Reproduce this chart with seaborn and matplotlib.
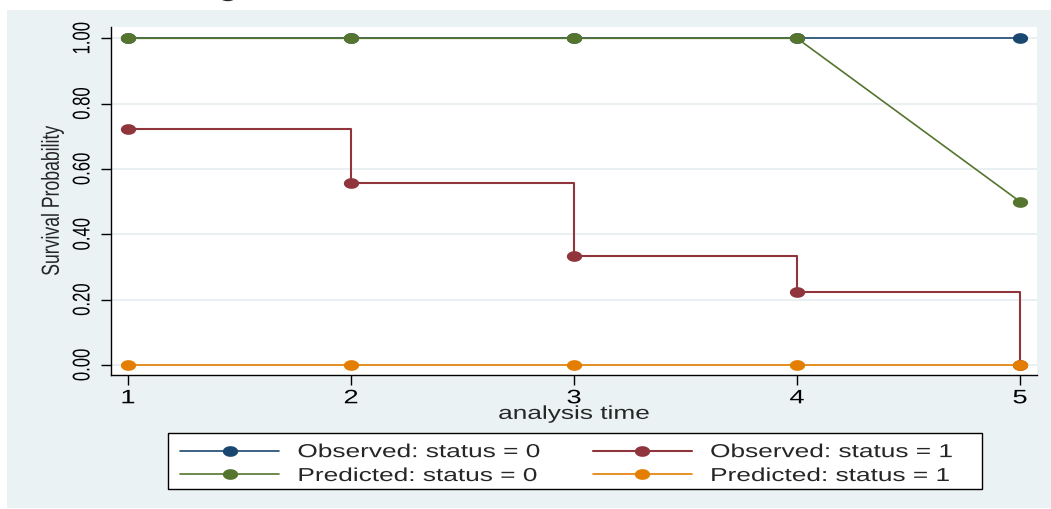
import numpy as np
import matplotlib
matplotlib.use("Agg")
import matplotlib.pyplot as plt
import seaborn as sns
from matplotlib.patches import Rectangle
from matplotlib.patheffects import AbstractPathEffect
from matplotlib.transforms import Affine2D

# values
times = [1, 2, 3, 4, 5]
obs_status0 = [1.0, 1.0, 1.0, 1.0, 1.0]
obs_status1 = [0.722, 0.556, 0.333, 0.222, 0.0]
pred_status0 = [1.0, 1.0, 1.0, 1.0, 0.5]
pred_status1 = [0.0, 0.0, 0.0, 0.0, 0.0]

series_labels = ["Observed: status = 0", "Observed: status = 1",
                 "Predicted: status = 0", "Predicted: status = 1"]
y_ticks = [0.0, 0.2, 0.4, 0.6, 0.8, 1.0]
x_ticks = [1, 2, 3, 4, 5]

# Stata s2color
colors = ["#1A476F", "#90353B", "#55752F", "#E37E00"]
bg = "#EAF2F3"


class Stretch(AbstractPathEffect):
    # the source image was resized wider, so the glyphs look stretched sideways
    def __init__(self, sx=1.0, sy=1.0, anchor="center"):
        super().__init__()
        self.sx, self.sy, self.anchor = sx, sy, anchor

    def draw_path(self, renderer, gc, tpath, affine, rgbFace=None):
        ext = tpath.get_extents()
        x0 = 0.0 if self.anchor == "left" else (ext.x0 + ext.x1) / 2
        y0 = (ext.y0 + ext.y1) / 2
        pre = Affine2D().translate(-x0, -y0).scale(self.sx, self.sy).translate(x0, y0)
        renderer.draw_path(gc, tpath, pre + affine, rgbFace)


sns.set_theme(style="white")
plt.rcParams["font.family"] = ["Liberation Sans", "DejaVu Sans"]

W, H = 1051, 509
fig = plt.figure(figsize=(W / 100, H / 100), dpi=100, facecolor="white")
fig.add_artist(Rectangle((7 / W, 1 / H), 1044 / W, 498 / H, transform=fig.transFigure,
                         facecolor=bg, edgecolor="none", zorder=-1))
ax = fig.add_axes([110.7 / W, 1 - 375 / H, 926.3 / W, 348 / H])
ax.set_facecolor("white")

# squashed circle marker, like the stretched dots in the picture
t = np.linspace(0, 2 * np.pi, 41)
ellipse = list(zip(np.cos(t), 0.7 * np.sin(t)))

series = [obs_status0, obs_status1, pred_status0, pred_status1]
styles = ["default", "steps-post", "default", "default"]
widths = [1.2, 1.5, 1.2, 1.2]
handles = []
for ys, lab, col, ds, lw in zip(series, series_labels, colors, styles, widths):
    sns.lineplot(x=times, y=ys, ax=ax, color=col, lw=lw, drawstyle=ds,
                 marker=ellipse, markersize=11, markeredgewidth=0,
                 label=lab, legend=False)
    handles.append(ax.lines[-1])

ax.set_xlim(0.922, 5.076)
ax.set_ylim(-0.0306, 1.0346)
ax.set_xticks(x_ticks, labels=[str(v) for v in x_ticks])
ax.set_yticks(y_ticks, labels=[f"{v:.2f}" for v in y_ticks])

ax.yaxis.grid(True, color="#E8EFF1", lw=1.3)
ax.xaxis.grid(False)
for s in ["top", "right"]:
    ax.spines[s].set_visible(False)
for s in ["left", "bottom"]:
    ax.spines[s].set_color("black")
    ax.spines[s].set_linewidth(1.0)

ax.tick_params(axis="both", direction="out", length=7, width=1, color="black",
               labelcolor="black", left=True, bottom=True)
ax.tick_params(axis="x", labelsize=14, pad=4)
ax.tick_params(axis="y", labelsize=12, pad=8, labelrotation=90)
for lbl in ax.get_yticklabels():
    lbl.set_va("center")
    lbl.set_path_effects([Stretch(sy=1.45)])
for lbl in ax.get_xticklabels():
    lbl.set_path_effects([Stretch(sx=1.4)])

ax.set_xlabel("analysis time", fontsize=13.5, labelpad=-1)
ax.set_ylabel("Survival Probability", fontsize=12.7, labelpad=10)
ax.xaxis.label.set_path_effects([Stretch(sx=1.4)])
ax.yaxis.label.set_path_effects([Stretch(sy=1.4)])

# legend box drawn by hand so it can fit the widened text
fig.add_artist(Rectangle((168 / W, 1 - 489 / H), 814 / W, 56 / H, transform=fig.transFigure,
                         facecolor="white", edgecolor="black", lw=1.0, zorder=1))
leg = fig.legend(handles=[handles[0], handles[2], handles[1], handles[3]],
                 labels=[series_labels[0], series_labels[2], series_labels[1], series_labels[3]],
                 ncol=2, loc="upper left", bbox_to_anchor=(180 / W, 1 - 444 / H),
                 frameon=False, borderpad=0, borderaxespad=0, fontsize=13.5,
                 handlelength=5.3, handletextpad=0.96, columnspacing=6.53,
                 labelspacing=0.36, numpoints=1)
for txt in leg.get_texts():
    txt.set_path_effects([Stretch(sx=1.4, anchor="left")])

# tail of the cut-off title at the very top
fig.text(228 / W, 1 + 4 / H, "g", ha="center", va="baseline", fontsize=18,
         path_effects=[Stretch(sx=1.4)])

fig.savefig("out.png", dpi=100, facecolor="white")
